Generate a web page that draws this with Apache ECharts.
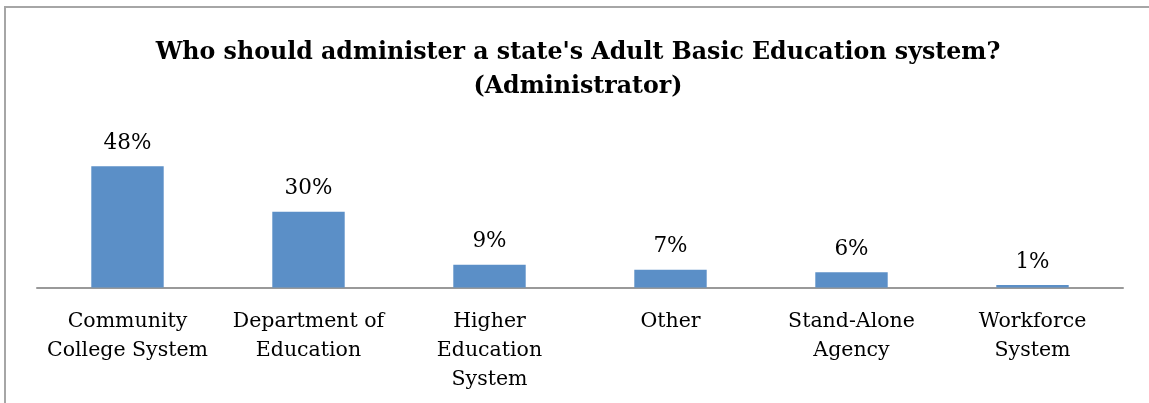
<!DOCTYPE html>
<html>
<head>
<meta charset="utf-8">
<script src="https://cdn.jsdelivr.net/npm/echarts@6/dist/echarts.min.js"></script>
<style>
  html, body { margin: 0; padding: 0; background: #fff; }
  #chart { width: 1149px; height: 403px; }
</style>
</head>
<body>
<div id="chart"></div>
<script>
// Survey responses: preferred administering body
const categories = [
  'Community\nCollege System',
  'Department of\nEducation',
  'Higher\nEducation\nSystem',
  'Other',
  'Stand-Alone\nAgency',
  'Workforce\nSystem'
];
const shares = [48, 30, 9, 7, 6, 1];
const titleText = "Who should administer a state's Adult Basic Education system?\n(Administrator)";

const serif = '"DejaVu Serif", serif';
const chart = echarts.init(document.getElementById('chart'));
chart.setOption({
  backgroundColor: '#ffffff',
  animation: false,
  title: {
    text: titleText,
    left: 573,
    top: 31,
    textAlign: 'center',
    textStyle: {
      fontFamily: serif,
      fontWeight: 'bold',
      fontSize: 23.7,
      lineHeight: 34,
      color: '#000'
    }
  },
  graphic: [{
    type: 'rect',
    shape: { x: 5, y: 7, width: 1300, height: 600 },
    style: { fill: 'none', stroke: '#a6a6a6', lineWidth: 2 },
    silent: true
  }],
  grid: { left: 37, right: 26, top: 136, bottom: 115.5 },
  xAxis: {
    type: 'category',
    data: categories,
    axisLine: { lineStyle: { color: '#999999', width: 2 } },
    axisTick: { show: false },
    axisLabel: {
      interval: 0,
      margin: 20,
      fontFamily: serif,
      fontSize: 20.5,
      lineHeight: 29,
      color: '#000'
    }
  },
  yAxis: {
    type: 'value',
    min: 0,
    max: 60,
    show: false,
    splitLine: { show: false }
  },
  series: [{
    type: 'bar',
    data: shares,
    barWidth: '40%',
    itemStyle: { color: '#5b8fc7' },
    label: {
      show: true,
      position: 'top',
      distance: 12,
      formatter: '{c}%',
      fontFamily: serif,
      fontSize: 21.5,
      color: '#000'
    }
  }]
});
</script>
</body>
</html>
